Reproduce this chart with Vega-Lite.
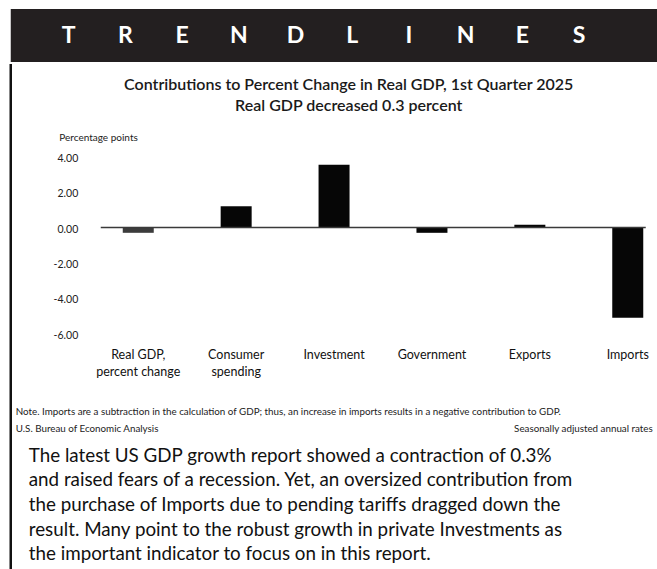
{
  "$schema": "https://vega.github.io/schema/vega-lite/v6.json",
  "autosize": {"type": "pad"},
  "padding": {"left": 8.75, "top": 9, "right": 0, "bottom": 0},
  "background": "white",
  "spacing": 0,
  "config": {"view": {"stroke": null}, "font": "Lato"},
  "vconcat": [
    {
      "width": 647,
      "height": 53,
      "view": {"fill": "#231f20", "stroke": null},
      "data": {"values": [
        {"letter": "T", "i": 0}, {"letter": "R", "i": 1}, {"letter": "E", "i": 2},
        {"letter": "N", "i": 3}, {"letter": "D", "i": 4}, {"letter": "L", "i": 5},
        {"letter": "I", "i": 6}, {"letter": "N", "i": 7}, {"letter": "E", "i": 8},
        {"letter": "S", "i": 9}
      ]},
      "mark": {"type": "text", "font": "Lato", "fontWeight": "bold", "fontSize": 23, "color": "white", "baseline": "middle", "align": "center"},
      "encoding": {
        "x": {"field": "i", "type": "quantitative", "scale": {"domain": [-1.0229, 10.388], "nice": false, "zero": false}, "axis": null},
        "text": {"field": "letter"}
      }
    },
    {
      "width": 647,
      "height": 507,
      "view": {"stroke": null},
      "resolve": {"scale": {"x": "independent"}},
      "layer": [
        {
          "data": {"values": [
            {"category": "Real GDP,|percent change", "value": -0.3, "series": "total"},
            {"category": "Consumer|spending", "value": 1.2, "series": "component"},
            {"category": "Investment", "value": 3.55, "series": "component"},
            {"category": "Government", "value": -0.3, "series": "component"},
            {"category": "Exports", "value": 0.15, "series": "component"},
            {"category": "Imports", "value": -5.1, "series": "component"}
          ]},
          "mark": {"type": "bar"},
          "encoding": {
            "x": {
              "field": "category", "type": "nominal", "sort": null,
              "scale": {"paddingInner": 0.6834, "paddingOuter": 0.6461, "align": 0.8854},
              "axis": {
                "orient": "bottom", "offset": -223, "title": null, "labelAngle": 0,
                "domain": false, "ticks": false, "grid": false, "labelPadding": 0,
                "labelFont": "Lato", "labelFontSize": 12.5, "labelColor": "#111",
                "labelBaseline": "top", "labelLineHeight": 17,
                "labelExpr": "split(datum.label, '|')"
              }
            },
            "y": {
              "field": "value", "type": "quantitative",
              "scale": {"domain": [-19.4068, 9.2373], "nice": false, "zero": false},
              "axis": {
                "orient": "left", "offset": -67, "values": [-6, -4, -2, 0, 2, 4],
                "labelExpr": "datum.value < 0 ? '-' + format(-datum.value, '.2f') : format(datum.value, '.2f')",
                "domain": false, "ticks": false, "grid": false, "labelPadding": 0,
                "labelFont": "Lato", "labelFontSize": 10.5, "labelColor": "#222",
                "labelAlign": "right", "labelBaseline": "middle", "labelOffset": 1.5, "labelFlush": false,
                "title": "Percentage points", "titleAngle": 0, "titleAlign": "left", "titleBaseline": "middle",
                "titleX": -19, "titleY": 73, "titleFont": "Lato", "titleFontWeight": "normal",
                "titleFontSize": 10, "titleColor": "#222"
              }
            },
            "color": {"field": "series", "type": "nominal", "scale": {"domain": ["total", "component"], "range": ["#3c3c3c", "#060606"]}, "legend": null}
          }
        },
        {
          "layer": [
            {
              "data": {"values": [{"value": 0}]},
              "mark": {"type": "rule", "color": "#3a3a3a", "strokeWidth": 1.5},
              "encoding": {
                "x": {"datum": 0, "type": "quantitative", "scale": {"domain": [-0.165138, 1.022018], "nice": false, "zero": false}, "axis": null},
                "x2": {"datum": 1},
                "y": {"field": "value", "type": "quantitative"}
              }
            },
            {
              "data": {"values": [{"edge": "left"}]},
              "mark": {"type": "rule", "color": "#111", "strokeWidth": 2.5},
              "encoding": {
                "x": {"datum": -0.165138, "type": "quantitative", "axis": null}
              }
            },
            {
              "data": {"values": [{"text": "Contributions to Percent Change in Real GDP, 1st Quarter 2025\nReal GDP decreased 0.3 percent"}]},
              "mark": {"type": "text", "font": "Lato", "fontWeight": 600, "fontSize": 16, "color": "#1a1a1a", "align": "center", "baseline": "top", "lineBreak": "\n", "lineHeight": 21},
              "encoding": {
                "x": {"datum": 0.455, "type": "quantitative", "axis": null},
                "y": {"datum": 8.508, "type": "quantitative"},
                "text": {"field": "text"}
              }
            },
            {
              "data": {"values": [{"text": "Note. Imports are a subtraction in the calculation of GDP; thus, an increase in imports results in a negative contribution to GDP.\nU.S. Bureau of Economic Analysis"}]},
              "mark": {"type": "text", "font": "Lato", "fontSize": 9.8, "color": "#222", "align": "left", "baseline": "top", "lineBreak": "\n", "lineHeight": 17},
              "encoding": {
                "x": {"datum": -0.15596, "type": "quantitative", "axis": null},
                "y": {"datum": -10.124, "type": "quantitative"},
                "text": {"field": "text"}
              }
            },
            {
              "data": {"values": [{"text": "Seasonally adjusted annual rates"}]},
              "mark": {"type": "text", "font": "Lato", "fontSize": 9.8, "color": "#222", "align": "right", "baseline": "top"},
              "encoding": {
                "x": {"datum": 1.01284, "type": "quantitative", "axis": null},
                "y": {"datum": -11.085, "type": "quantitative"},
                "text": {"field": "text"}
              }
            },
            {
              "data": {"values": [{"text": "The latest US GDP growth report showed a contraction of 0.3%\nand raised fears of a recession. Yet, an oversized contribution from\nthe purchase of Imports due to pending tariffs dragged down the\nresult.  Many point to the robust growth in private Investments as\nthe important indicator to focus on in this report."}]},
              "mark": {"type": "text", "font": "Lato", "fontSize": 18.8, "color": "#111", "align": "left", "baseline": "top", "lineBreak": "\n", "lineHeight": 24.7},
              "encoding": {
                "x": {"datum": -0.13211, "type": "quantitative", "axis": null},
                "y": {"datum": -12.384, "type": "quantitative"},
                "text": {"field": "text"}
              }
            }
          ]
        }
      ]
    }
  ]
}
